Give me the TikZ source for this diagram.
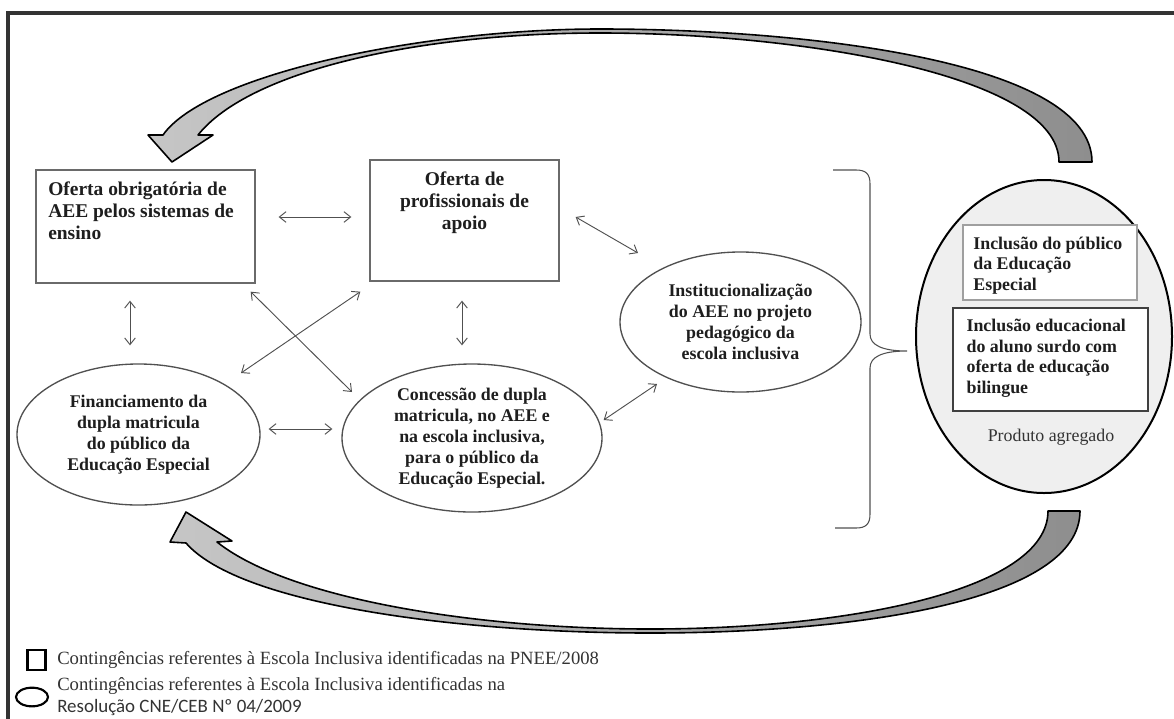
\documentclass[tikz,border=0pt]{standalone}
\usepackage{fontspec}
\setmainfont{Liberation Serif}
\newfontfamily\calib{Carlito}
\usetikzlibrary{arrows.meta,shapes.geometric}
\definecolor{framec}{HTML}{333333}
\definecolor{txt}{HTML}{1E1E1E}
\definecolor{boxc}{HTML}{6A6A6A}
\definecolor{linkc}{HTML}{505050}
\definecolor{arrL}{HTML}{C6C6C6}
\definecolor{arrR}{HTML}{8E8E8E}
\definecolor{prodfill}{HTML}{EFEFEF}
\tikzset{
  box/.style={draw=boxc, line width=1pt, rectangle, inner sep=0pt},
  oval/.style={draw=linkc, line width=1pt, ellipse, inner sep=0pt, align=center,
    text=txt, font=\bfseries\fontsize{13.4}{15.7}\selectfont},
  btxt/.style={inner sep=0pt, text=txt, font=\bfseries\fontsize{14.6}{16.4}\selectfont},
  itxt/.style={inner sep=0pt, text=txt, align=left, font=\bfseries\fontsize{13.4}{15.4}\selectfont},
  dbl/.style={{Straight Barb[length=5pt,width=8pt]}-{Straight Barb[length=5pt,width=8pt]},
    draw=linkc, line width=0.7pt},
  bigarrow/.style={draw=black, line width=1.2pt, left color=arrL, right color=arrR, line join=round},
  legtxt/.style={inner sep=0pt, text=framec, align=left, font=\fontsize{14}{16.5}\selectfont},
}
\begin{document}
\begin{tikzpicture}[x=0.75pt, y=-0.75pt]
\useasboundingbox (0,0) rectangle (1174,718);
\fill[white] (0,0) rectangle (1174,718);

% outer frame (continues past the right and bottom edges)
\draw[framec, line width=2.4pt] (8,730) -- (8,13) -- (1190,13);

% ---- rectangular contingencies
\node (b1) [box, minimum width=164.25pt, minimum height=84.75pt,
  label={[btxt, align=left, anchor=north west, xshift=9.5pt, yshift=-9pt]north west:{Oferta obrigatória de\\AEE pelos sistemas de\\ensino}}]
  at (145.5,226.5) {};
\node (b2) [box, minimum width=141.75pt, minimum height=90.75pt,
  label={[btxt, align=center, anchor=north, yshift=-9pt]north:{Oferta de\\profissionais de\\apoio}}]
  at (464.5,220.5) {};

% ---- elliptical contingencies
\node (f) [oval, minimum width=182.25pt, minimum height=105.75pt] at (138.5,434.5)
  {Financiamento da\\dupla matricula\\do público da\\Educação Especial};
\node (c) [oval, minimum width=195pt, minimum height=111pt] at (472,438)
  {Concessão de dupla\\matricula, no AEE e\\na escola inclusiva,\\para o público da\\Educação Especial.};
\node (i) [oval, minimum width=180.75pt, minimum height=105pt] at (740.5,322)
  {Institucionalização\\do AEE no projeto\\pedagógico da\\escola inclusiva};

% ---- aggregated product
\node (p) [ellipse, draw=black, line width=1.5pt, fill=prodfill, inner sep=0pt,
  minimum width=192pt, minimum height=234.75pt] at (1044,336.5) {};
\node (ib1) [box, draw=gray!75, line width=1.3pt, fill=white, minimum width=130.5pt, minimum height=56.25pt,
  label={[itxt, anchor=north west, xshift=8.25pt, yshift=-9.4pt]north west:{Inclusão do público\\da Educação\\Especial}}]
  at (1050,262.5) {};
\node (ib2) [box, draw=black!75, line width=1pt, fill=white, minimum width=146.25pt, minimum height=77.25pt,
  label={[itxt, anchor=north west, xshift=10.5pt, yshift=-8.6pt]north west:{Inclusão educacional\\do aluno surdo com\\oferta de educação\\bilingue}}]
  at (1050.5,359.5) {};
\node (prod) [inner sep=0pt, text=black!80, font=\fontsize{13.4}{15}\selectfont] at (1051,437) {Produto agregado};

% ---- two-way links
\draw[dbl] ([shift={(23,-9.5)}]b1.east) -- ([shift={(-18,-3.5)}]b2.west);
\draw[dbl] ([shift={(-15.5,17)}]b1.south) -- ([shift={(-8.5,-18)}]f.north);
\draw[dbl] ([shift={(-2.5,19)}]b2.south) -- ([shift={(-10,-18)}]c.north);
\draw[dbl] ([shift={(-5,8)}]b1.south east) -- ([shift={(-120,-46)}]c.center);
\draw[dbl] ([shift={(-9,10)}]b2.south west) -- ([shift={(102.5,-61.5)}]f.center);
\draw[dbl] ([shift={(8,-5.5)}]f.east) -- ([shift={(-9,-9)}]c.west);
\draw[dbl] ([shift={(16,-3.5)}]b2.east) -- ([shift={(-102.5,-69)}]i.center);
\draw[dbl] ([shift={(1,-18)}]c.east) -- ([shift={(-83.5,62)}]i.center);

% ---- brace gathering the contingencies
\coordinate (tip) at (907,351);
\draw[linkc, line width=0.8pt]
  (833,170) -- (856,170) .. controls (866,170) and (870,174) .. (870,184)
  -- (870,334) .. controls (870,345) and (882,351) .. (tip)
  .. controls (882,351) and (870,357) .. (870,368)
  -- (870,514) .. controls (870,524) and (866,528) .. (856,528) -- (835,528);

% ---- upper curved arrow (product back to the system)
\path[bigarrow] (172,162) -- (148,135) -- (163,135)
  .. controls (205,75) and (420,29) .. (600,29)
  .. controls (800,29) and (1092,60) .. (1092,162)
  -- (1059,162)
  .. controls (1059,75) and (800,33) .. (600,33)
  .. controls (420,33) and (250,70) .. (198,135)
  -- (213,135) -- cycle;

% ---- lower curved arrow
\path[bigarrow] (186,512) -- (232,541) -- (217,542)
  .. controls (290,600) and (480,629) .. (650,629)
  .. controls (850,629) and (1048,590) .. (1048,511)
  -- (1080,511)
  .. controls (1080,600) and (860,633) .. (650,633)
  .. controls (460,633) and (240,605) .. (186,543)
  -- (170,542) -- cycle;

% ---- legend
\node (lsq) [draw=black, line width=1.6pt, rectangle, inner sep=0pt, minimum width=13.5pt, minimum height=14.5pt] at (36.5,660) {};
\node (lov) [draw=black, line width=1.6pt, ellipse, inner sep=0pt, minimum width=24pt, minimum height=14pt] at (32,697) {};
\node (lt1) [legtxt, anchor=west] at (57,660) {Contingências referentes à Escola Inclusiva identificadas na PNEE/2008};
\node (lt2) [legtxt, anchor=west] at (57,697) {Contingências referentes à Escola Inclusiva identificadas na\\{\calib\fontsize{14.2}{14}\selectfont Resolução CNE/CEB Nº 04/2009}};
\end{tikzpicture}
\end{document}
